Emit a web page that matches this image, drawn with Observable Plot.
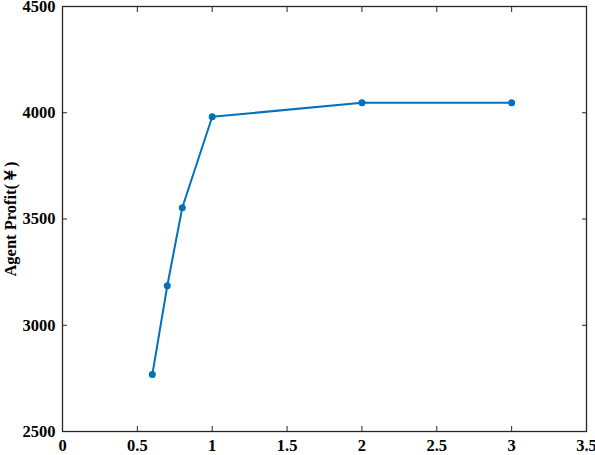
<!DOCTYPE html>
<html><head><meta charset="utf-8">
<script src="https://cdn.jsdelivr.net/npm/d3@7"></script>
<script src="https://cdn.jsdelivr.net/npm/@observablehq/plot@0.6"></script>
<style>body{margin:0;background:#fff}</style>
</head><body><div id="chart"></div>
<script>
const xValues = [0.6, 0.7, 0.8, 1, 2, 3];
const profit = [2768, 3186, 3553, 3981, 4047, 4047];
const xTicks = [0, 0.5, 1, 1.5, 2, 2.5, 3, 3.5];
const yTicks = [2500, 3000, 3500, 4000, 4500];
const yLabel = "Agent Profit(￥)";

const data = xValues.map((x, i) => ({x, y: profit[i]}));
const color = "#0072BD";
const axisColor = "#262626";
const blank = () => "";

const chart = Plot.plot({
  width: 595, height: 455,
  marginLeft: 62, marginRight: 9, marginTop: 6, marginBottom: 24,
  style: {fontFamily: "'Liberation Serif', 'Times New Roman', serif", fontWeight: "bold", fontSize: "16.5px", color: "#000", background: "#fff"},
  x: {domain: [0, 3.5]},
  y: {domain: [2500, 4500]},
  marks: [
    Plot.frame({stroke: axisColor, strokeWidth: 1.3}),
    Plot.axisX({anchor: "bottom", ticks: xTicks, tickSize: -5, tickFormat: blank, label: null, stroke: axisColor}),
    Plot.axisX({anchor: "top", ticks: xTicks, tickSize: -5, tickFormat: blank, label: null, stroke: axisColor}),
    Plot.axisY({anchor: "left", ticks: yTicks, tickSize: -5, tickFormat: blank, label: null, stroke: axisColor}),
    Plot.axisY({anchor: "right", ticks: yTicks, tickSize: -5, tickFormat: blank, label: null, stroke: axisColor}),
    Plot.axisX({anchor: "bottom", ticks: xTicks, tickSize: 0, tickPadding: 8, tickFormat: d => String(d), label: null, fill: "#000"}),
    Plot.axisY({anchor: "left", ticks: yTicks, tickSize: 0, tickPadding: 7, tickFormat: d => String(d), label: yLabel, labelAnchor: "center", labelArrow: "none", labelOffset: 58, fill: "#000"}),
    Plot.line(data, {x: "x", y: "y", stroke: color, strokeWidth: 2}),
    Plot.dot(data, {x: "x", y: "y", fill: color, r: 3.5})
  ]
});
document.getElementById("chart").appendChild(chart);
</script></body></html>
